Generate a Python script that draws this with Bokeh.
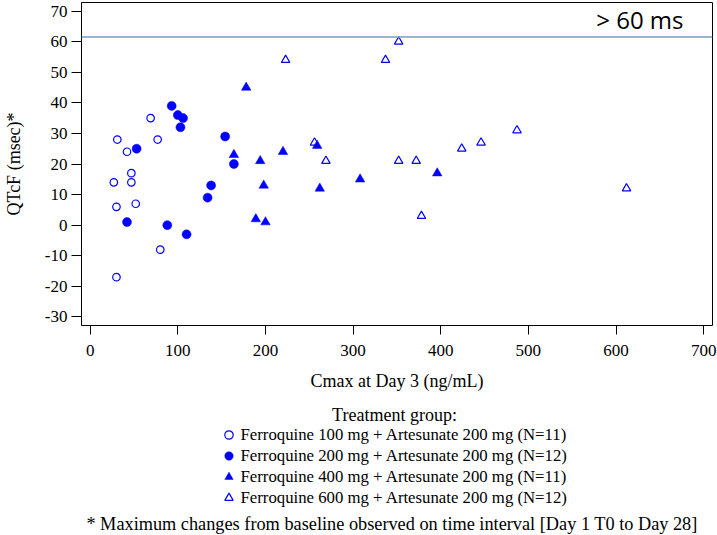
from bokeh.plotting import figure
from bokeh.layouts import column
from bokeh.models import Label, Span, Legend, LegendItem, FixedTicker, Range1d
from bokeh.embed import file_html
from bokeh.resources import INLINE

# ---- data ----
dose100_x = [27, 30, 31, 30, 42, 47, 47, 52, 69, 77, 80]
dose100_y = [14, 6, 28, -17, 24, 17, 14, 7, 35, 28, -8]

dose200_x = [42, 53, 88, 93, 100, 106, 103, 110, 134, 138, 154, 164]
dose200_y = [1, 25, 0, 39, 36, 35, 32, -3, 9, 13, 29, 20]

dose400_x = [164, 178, 194, 198, 189, 200, 220, 259, 262, 308, 396]
dose400_y = [23, 45, 21, 13, 2, 1, 24, 26, 12, 15, 17]

dose600_x = [223, 256, 269, 337, 352, 352, 372, 378, 424, 446, 487, 612]
dose600_y = [54, 27, 21, 54, 60, 21, 21, 3, 25, 27, 31, 12]

group_labels = [
    "Ferroquine 100 mg + Artesunate 200 mg (N=11)",
    "Ferroquine 200 mg + Artesunate 200 mg (N=12)",
    "Ferroquine 400 mg + Artesunate 200 mg (N=11)",
    "Ferroquine 600 mg + Artesunate 200 mg (N=12)",
]
x_ticks = [0, 100, 200, 300, 400, 500, 600, 700]
y_ticks = [-30, -20, -10, 0, 10, 20, 30, 40, 50, 60, 70]
threshold = 61.5
threshold_text = "> 60 ms"
x_title = "Cmax at Day 3 (ng/mL)"
y_title = "QTcF (msec)*"
legend_title = "Treatment group:"
footnote = "* Maximum changes from baseline observed on time interval [Day 1 T0 to Day 28]"

SERIF = "Liberation Serif"
BLUE = "#0000ff"
NAN = float("nan")

# ---------------- main scatter plot ----------------
p = figure(width=717, height=400, output_backend="svg", toolbar_location=None,
           x_range=Range1d(-9.9, 710.1), y_range=Range1d(-32.8, 72.8),
           min_border_left=77, min_border_right=5, min_border_top=2,
           min_border_bottom=75)
p.background_fill_color = "white"
p.border_fill_color = "white"
p.outline_line_color = "black"
p.outline_line_width = 1
p.xgrid.visible = False
p.ygrid.visible = False

for ax, ticks in ((p.xaxis[0], x_ticks), (p.yaxis[0], y_ticks)):
    ax.ticker = FixedTicker(ticks=ticks)
    ax.axis_line_color = None
    ax.major_tick_in = 0
    ax.major_tick_line_color = "black"
    ax.minor_tick_line_color = None
    ax.major_label_text_font = SERIF
    ax.major_label_text_font_size = "17px"
    ax.major_label_text_color = "black"
    ax.axis_label_text_font = SERIF
    ax.axis_label_text_font_size = "18px"
    ax.axis_label_text_font_style = "normal"
    ax.axis_label_text_color = "black"

p.yaxis.major_label_overrides = {t: str(t) for t in y_ticks}
p.xaxis.axis_label = x_title
p.xaxis.major_tick_out = 9
p.xaxis.major_label_standoff = 10
p.xaxis.axis_label_standoff = 12
p.yaxis.axis_label = y_title
p.yaxis.major_tick_out = 10
p.yaxis.major_label_standoff = 4
p.yaxis.axis_label_standoff = 18

p.add_layout(Span(location=threshold, dimension="width", line_color="#7b9bc8",
                  line_width=1.5))
p.add_layout(Label(x=677, y=67.2, text=threshold_text, text_align="right",
                   text_baseline="alphabetic", text_font="Open Sans",
                   text_font_size="24px", text_color="black"))

styles = [
    dict(marker="circle", size=7.5, fill_color=None, line_color=BLUE, line_width=1.2),
    dict(marker="circle", size=9, fill_color=BLUE, line_color=BLUE, line_width=0.5),
    dict(marker="triangle", size=9.5, fill_color=BLUE, line_color=BLUE, line_width=0.5),
    dict(marker="triangle", size=8.5, fill_color=None, line_color=BLUE, line_width=1.2),
]
series = [(dose100_x, dose100_y), (dose200_x, dose200_y),
          (dose400_x, dose400_y), (dose600_x, dose600_y)]
for (xs, ys), st in zip(series, styles):
    p.scatter(xs, ys, **st)

# ---------------- legend / footnote panel ----------------
# frame of this panel lines up with the main frame; its ranges are in
# canvas pixels so that the texts can be placed precisely.
p2 = figure(width=717, height=135, output_backend="svg", toolbar_location=None,
            x_range=Range1d(77, 712), y_range=Range1d(135, 0),
            x_axis_type=None, y_axis_type=None,
            min_border_left=77, min_border_right=5, min_border_top=0,
            min_border_bottom=0)
p2.outline_line_color = None
p2.xgrid.visible = False
p2.ygrid.visible = False
p2.border_fill_color = "white"
p2.background_fill_color = "white"

# legend-only renderers (one non-drawable point each, so the legend has a glyph)
legend_renderers = [p2.scatter(x=[NAN], y=[NAN], **st) for st in styles]
legend = Legend(items=[LegendItem(label=lab, renderers=[r])
                       for lab, r in zip(group_labels, legend_renderers)],
                location=(136.5, 27), orientation="vertical",
                padding=0, margin=0, spacing=0,
                glyph_width=21, glyph_height=21, label_height=21,
                label_standoff=2, border_line_color=None,
                background_fill_alpha=0,
                label_text_font=SERIF, label_text_font_size="16.75px",
                label_text_color="black")
p2.add_layout(legend)

p2.add_layout(Label(x=392, y=14.8, text=legend_title, text_align="center",
                    text_baseline="alphabetic", text_font=SERIF,
                    text_font_size="18px", text_color="black"))
p2.add_layout(Label(x=389.5, y=123, text=footnote, text_align="center",
                    text_baseline="alphabetic", text_font=SERIF,
                    text_font_size="18.3px", text_color="black"))

layout = column(p, p2, spacing=0)
open("out.html", "w").write(file_html(layout, INLINE))
